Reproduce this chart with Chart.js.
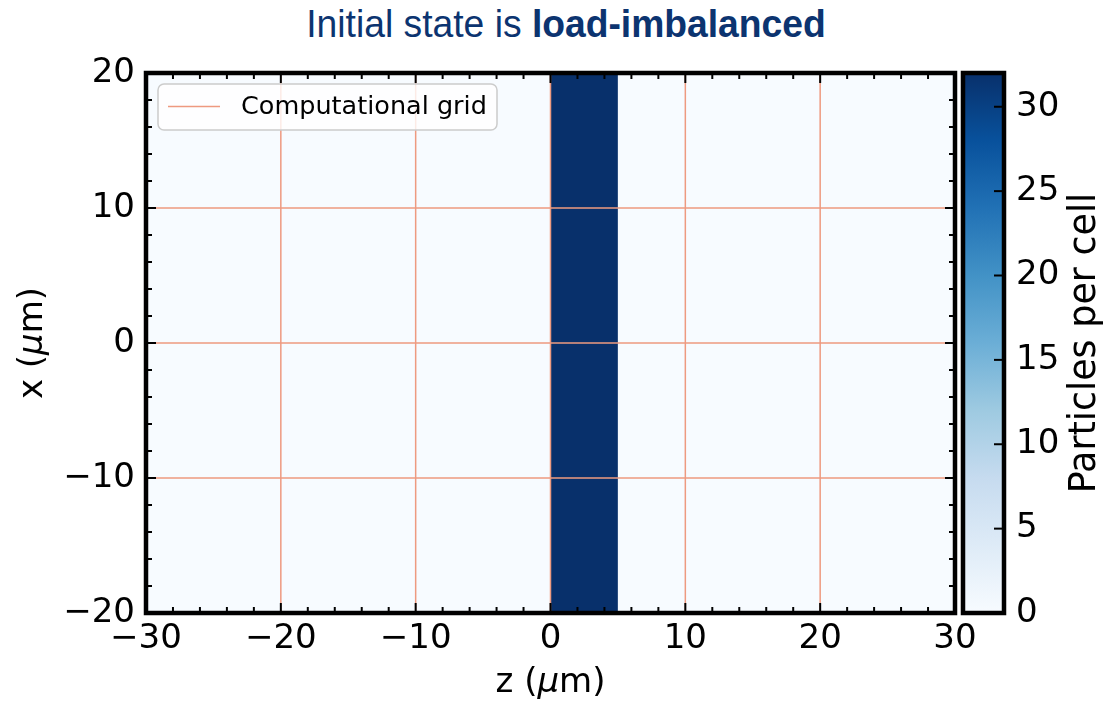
<!DOCTYPE html>
<html>
<head>
<meta charset="utf-8">
<script src="https://cdn.jsdelivr.net/npm/chart.js@4.4.1/dist/chart.umd.min.js"></script>
<style>
  html, body { margin: 0; background: #fff; }
  #wrap { position: relative; width: 1105px; height: 701px; overflow: hidden; }
  #title {
    position: absolute; left: 0; top: 3px; width: 1132px; text-align: center;
    font: 38px "Liberation Sans", Arial, sans-serif; color: #0c3470;
    transform: scaleX(0.98);
  }
  canvas { position: absolute; top: 0; }
  #main { left: 0; }
  #cbar { left: 955px; }
</style>
</head>
<body>
<div id="wrap">
  <div id="title">Initial state is <b>load-imbalanced</b></div>
  <canvas id="main" width="1105" height="701"></canvas>
  <canvas id="cbar" width="150" height="701"></canvas>
</div>
<script>
// particle density, binned along z; uniform along x
const zEdges = [-30, 0, 5, 30];
const cellCounts = [0, 32, 0];
const xExtent = [-20, 20];

// computational grid lines
const gridZ = [-20, -10, 0, 10, 20];
const gridX = [-10, 0, 10];

// axes
const zTicks = [-30, -20, -10, 0, 10, 20, 30];
const xTicks = [-20, -10, 0, 10, 20];
const minorStep = 2;
const cbarTicks = [0, 5, 10, 15, 20, 25, 30];
const cbarMax = 32;

const GRID_COLOR = '#ee9a80';
const TICK_FONT = { family: 'DejaVu Sans', size: 34 };
const bluesStops = ['#f7fbff', '#deebf7', '#c6dbef', '#9ecae1', '#6baed6', '#4292c6', '#2171b5', '#08519c', '#08306b'];

Chart.defaults.font.family = 'DejaVu Sans';
Chart.defaults.color = '#000';

function hexToRgb(h) {
  return [1, 3, 5].map(i => parseInt(h.slice(i, i + 2), 16));
}

function blues(t) {
  t = Math.min(1, Math.max(0, t));
  const f = t * (bluesStops.length - 1);
  const i = Math.min(Math.floor(f), bluesStops.length - 2);
  const u = f - i;
  const a = hexToRgb(bluesStops[i]), b = hexToRgb(bluesStops[i + 1]);
  return 'rgb(' + a.map((c, k) => Math.round(c + (b[k] - c) * u)).join(',') + ')';
}

const minus = v => String(v).replace('-', '\u2212');

// text with mixed fonts (for the italic mu), centred on cx,cy
function drawMixed(ctx, parts, cx, cy, angle) {
  ctx.save();
  ctx.translate(cx, cy);
  ctx.rotate(angle);
  ctx.textBaseline = 'middle';
  ctx.textAlign = 'left';
  ctx.fillStyle = '#000';
  let total = 0;
  parts.forEach(p => { ctx.font = p[1]; total += ctx.measureText(p[0]).width; });
  let pos = -total / 2;
  parts.forEach(p => {
    ctx.font = p[1];
    ctx.fillText(p[0], pos, 0);
    pos += ctx.measureText(p[0]).width;
  });
  ctx.restore();
}

function tickLine(ctx, x1, y1, x2, y2, w) {
  ctx.lineWidth = w;
  ctx.beginPath();
  ctx.moveTo(x1, y1);
  ctx.lineTo(x2, y2);
  ctx.stroke();
}

// grid lines as one dataset, broken with null points
const gridPoints = [];
gridZ.forEach(z => gridPoints.push({ x: z, y: xExtent[0] }, { x: z, y: xExtent[1] }, { x: z, y: null }));
gridX.forEach(x => gridPoints.push({ x: zEdges[0], y: x }, { x: zEdges[zEdges.length - 1], y: x }, { x: zEdges[zEdges.length - 1], y: null }));

const FONT = '34px "DejaVu Sans"';
const FONT_I = 'italic 34px "DejaVu Sans"';

const heatmapLayer = {
  id: 'heatmapLayer',
  beforeDatasetsDraw(chart) {
    const { ctx, scales: { x, y } } = chart;
    const top = y.getPixelForValue(xExtent[1]);
    const bottom = y.getPixelForValue(xExtent[0]);
    cellCounts.forEach((n, i) => {
      const l = x.getPixelForValue(zEdges[i]);
      const r = x.getPixelForValue(zEdges[i + 1]);
      ctx.fillStyle = blues(n / cbarMax);
      ctx.fillRect(l, top, r - l, bottom - top);
    });
  },
  afterDatasetsDraw(chart) {
    const { ctx, chartArea: a, scales: { x, y } } = chart;
    ctx.save();

    // legend
    const ds = chart.data.datasets[0];
    ctx.beginPath();
    ctx.roundRect(158, 84, 339, 46, 6);
    ctx.fillStyle = 'rgba(255,255,255,0.8)';
    ctx.fill();
    ctx.strokeStyle = '#cccccc';
    ctx.lineWidth = 1.5;
    ctx.stroke();
    ctx.strokeStyle = ds.borderColor;
    tickLine(ctx, 168, 106.5, 220, 106.5, 1.5);
    ctx.fillStyle = '#000';
    ctx.font = '25.5px "DejaVu Sans"';
    ctx.textBaseline = 'middle';
    ctx.fillText(ds.label, 241, 107);

    // inward ticks on all four sides
    ctx.strokeStyle = '#000';
    for (let v = x.min; v <= x.max; v += minorStep) {
      const px = x.getPixelForValue(v);
      const len = zTicks.includes(v) ? 10 : 6;
      tickLine(ctx, px, a.bottom, px, a.bottom - len, 2);
      tickLine(ctx, px, a.top, px, a.top + len, 2);
    }
    for (let v = y.min; v <= y.max; v += minorStep) {
      const py = y.getPixelForValue(v);
      const len = xTicks.includes(v) ? 10 : 6;
      tickLine(ctx, a.left, py, a.left + len, py, 2);
      tickLine(ctx, a.right, py, a.right - len, py, 2);
    }

    // frame
    ctx.lineWidth = 4.5;
    ctx.strokeRect(a.left, a.top, a.right - a.left, a.bottom - a.top);
    ctx.restore();
  },
  afterDraw(chart) {
    const { ctx, chartArea: a } = chart;
    drawMixed(ctx, [['z (', FONT], ['\u03bc', FONT_I], ['m)', FONT]], (a.left + a.right) / 2, 683, 0);
    drawMixed(ctx, [['x (', FONT], ['\u03bc', FONT_I], ['m)', FONT]], 33, (a.top + a.bottom) / 2, -Math.PI / 2);
  }
};

new Chart(document.getElementById('main'), {
  type: 'scatter',
  data: {
    datasets: [{
      label: 'Computational grid',
      data: gridPoints,
      showLine: true,
      spanGaps: false,
      borderColor: GRID_COLOR,
      borderWidth: 1.5,
      pointRadius: 0
    }]
  },
  options: {
    responsive: false,
    animation: false,
    events: [],
    layout: { padding: { top: 73, right: 150, left: 0, bottom: 0 } },
    plugins: { legend: { display: false }, tooltip: { enabled: false } },
    scales: {
      x: {
        type: 'linear', min: zEdges[0], max: zEdges[zEdges.length - 1],
        afterBuildTicks: s => { s.ticks = zTicks.map(v => ({ value: v })); },
        afterFit: s => { s.height = 88; },
        grid: { display: false, drawTicks: false },
        border: { display: false },
        ticks: { font: TICK_FONT, color: '#000', padding: 6, maxRotation: 0, autoSkip: false, callback: minus }
      },
      y: {
        type: 'linear', min: xExtent[0], max: xExtent[1],
        afterBuildTicks: s => { s.ticks = xTicks.map(v => ({ value: v })); },
        afterFit: s => { s.width = 146; },
        grid: { display: false, drawTicks: false },
        border: { display: false },
        ticks: { font: TICK_FONT, color: '#000', padding: 11, autoSkip: false, callback: minus }
      }
    }
  },
  plugins: [heatmapLayer]
});

// colour bar
const colorbarLayer = {
  id: 'colorbarLayer',
  beforeDatasetsDraw(chart) {
    const { ctx, chartArea: a, scales: { y } } = chart;
    const g = ctx.createLinearGradient(0, y.getPixelForValue(0), 0, y.getPixelForValue(cbarMax));
    bluesStops.forEach((c, i) => g.addColorStop(i / (bluesStops.length - 1), c));
    ctx.fillStyle = g;
    ctx.fillRect(a.left, a.top, a.right - a.left, a.bottom - a.top);
  },
  afterDraw(chart) {
    const { ctx, chartArea: a, scales: { y } } = chart;
    ctx.save();
    ctx.strokeStyle = '#000';
    cbarTicks.forEach(v => {
      const py = y.getPixelForValue(v);
      tickLine(ctx, a.right, py, a.right - 10, py, 2);
    });
    ctx.lineWidth = 4.5;
    ctx.strokeRect(a.left, a.top, a.right - a.left, a.bottom - a.top);
    ctx.restore();
    drawMixed(ctx, [['Particles per cell', '36.5px "DejaVu Sans"']], 131, (a.top + a.bottom) / 2, -Math.PI / 2);
  }
};

new Chart(document.getElementById('cbar'), {
  type: 'scatter',
  data: { datasets: [] },
  options: {
    responsive: false,
    animation: false,
    events: [],
    layout: { padding: { top: 73, bottom: 88, left: 8, right: 0 } },
    plugins: { legend: { display: false }, tooltip: { enabled: false } },
    scales: {
      x: { type: 'linear', min: 0, max: 1, display: false },
      y: {
        type: 'linear', position: 'right', min: 0, max: cbarMax,
        afterBuildTicks: s => { s.ticks = cbarTicks.map(v => ({ value: v })); },
        afterFit: s => { s.width = 101; },
        grid: { display: false, drawTicks: false },
        border: { display: false },
        ticks: { font: TICK_FONT, color: '#000', padding: 12, autoSkip: false }
      }
    }
  },
  plugins: [colorbarLayer]
});
</script>
</body>
</html>
